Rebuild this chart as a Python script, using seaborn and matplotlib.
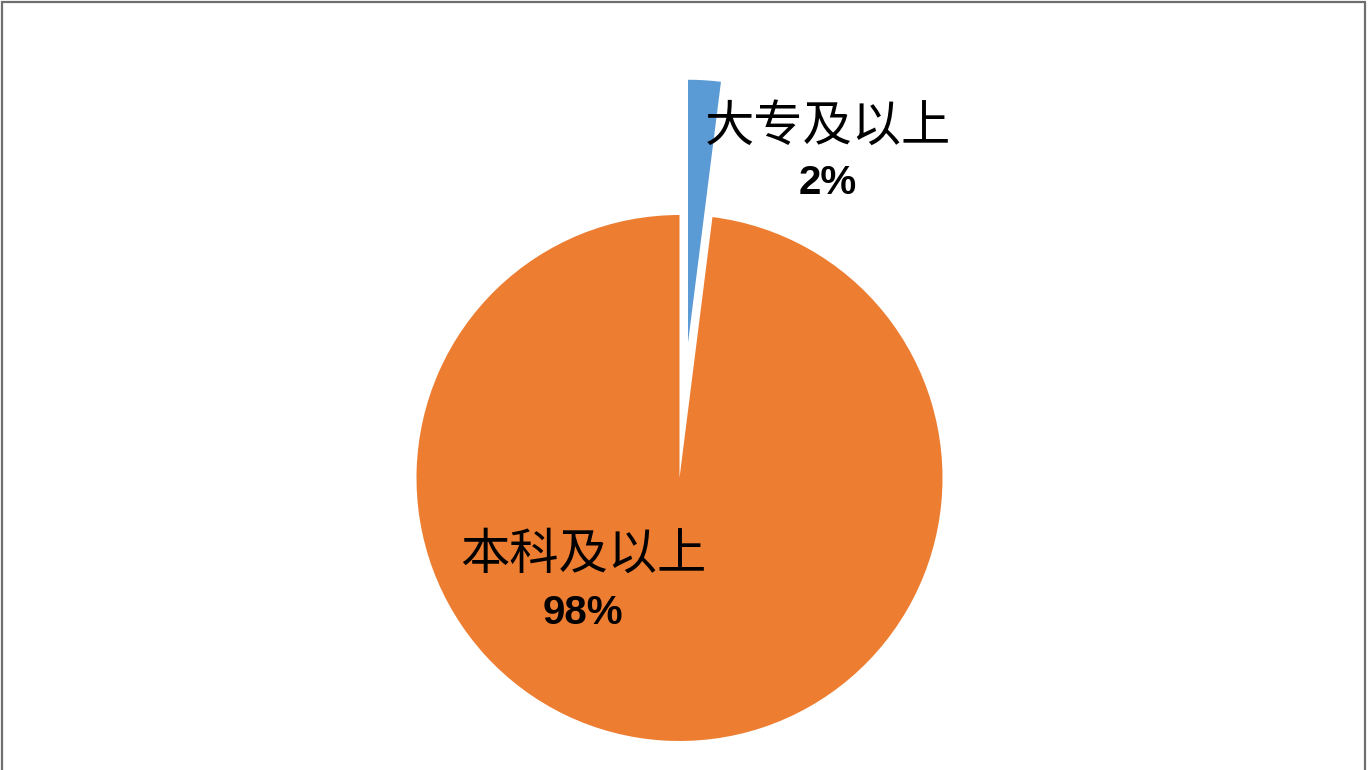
import matplotlib
matplotlib.use("Agg")
import matplotlib.pyplot as plt
from matplotlib.lines import Line2D
import seaborn as sns

# data
categories = ["大专及以上", "本科及以上"]
shares = [2, 98]
colors = ["#5B9BD5", "#ED7D31"]

sns.set_theme(style="white")
plt.rcParams["font.family"] = ["Noto Sans CJK SC", "DejaVu Sans"]

fig = plt.figure(figsize=(13.68, 7.70), dpi=100)
ax = fig.add_axes([0, 0, 1, 1])

# pie drawn in pixel-like data units; explode is an offset in those units
ax.pie(shares, colors=colors, explode=[135.5, 0], startangle=90,
       counterclock=False, center=(679.5, 292), radius=263,
       wedgeprops={"linewidth": 0})
ax.set_xlim(0, 1368)
ax.set_ylim(0, 770)
ax.set_aspect("equal")
ax.axis("off")

# labels: name on one line, percent in bold underneath
label_pos = [(828, 643, 587), (583, 215, 157)]
for cat, val, (x, y_name, y_pct) in zip(categories, shares, label_pos):
    ax.text(x, y_name, cat, fontsize=35.5, fontweight="light", ha="center",
            va="center", color="black")
    ax.text(x, y_pct, f"{val}%", fontsize=29, fontweight="bold", ha="center",
            va="center", color="black",
            family=["Liberation Sans", "DejaVu Sans"])

# thin grey frame round the picture (bottom edge is cut off in the original)
frame = dict(color="#6f6f6f", linewidth=1.6, transform=fig.transFigure)
fig.add_artist(Line2D([0.0015, 0.0015], [0, 0.997], **frame))
fig.add_artist(Line2D([0.0015, 0.998], [0.997, 0.997], **frame))
fig.add_artist(Line2D([0.998, 0.998], [0, 0.997], **frame))

fig.savefig("out.png", dpi=100)
